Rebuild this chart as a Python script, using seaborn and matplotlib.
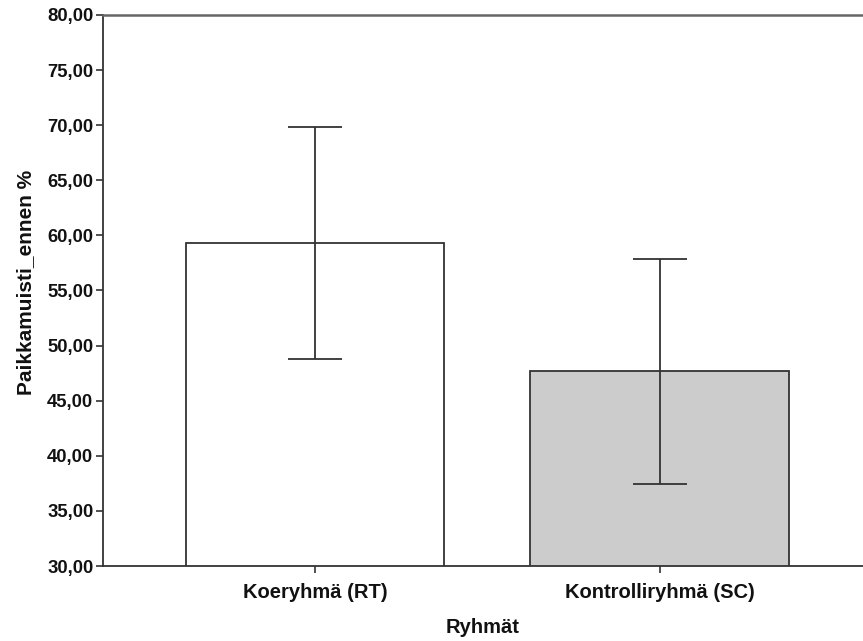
import matplotlib
matplotlib.use("Agg")
import matplotlib.pyplot as plt
import seaborn as sns
import numpy as np
from matplotlib.ticker import FuncFormatter

groups = ["Koeryhmä (RT)", "Kontrolliryhmä (SC)"]
means = [59.3, 47.7]
ci_low = [48.8, 37.4]
ci_high = [69.8, 57.9]
bar_colors = ["#ffffff", "#cccccc"]

sns.set_theme(style="white")
plt.rcParams['font.family'] = ['Liberation Sans', 'DejaVu Sans']

fig = plt.figure(figsize=(8.63, 6.41), dpi=100)
ax = fig.add_axes([103/863, 75/641, 760/863, 551/641])

sns.barplot(x=groups, y=means, hue=groups, palette=bar_colors, legend=False,
            width=0.75, edgecolor="#333333", linewidth=1.3, ax=ax, errorbar=None)

m = np.array(means)
yerr = np.vstack([m - np.array(ci_low), np.array(ci_high) - m])
ax.errorbar(x=np.arange(len(groups)), y=m, yerr=yerr, fmt="none",
            ecolor="#333333", elinewidth=1.3, capsize=19.5, capthick=1.3)

ax.set_ylim(30, 80)
ax.set_xlim(-0.615, 1.59)
ax.set_yticks(np.arange(30, 81, 5))
ax.yaxis.set_major_formatter(FuncFormatter(lambda v, p: f"{v:.2f}".replace(".", ",")))

for s in ["left", "bottom", "top"]:
    ax.spines[s].set_visible(True)
    ax.spines[s].set_color("#333333")
    ax.spines[s].set_linewidth(1.3)
ax.spines["top"].set_color("#666666")
ax.spines["top"].set_linewidth(1.8)
ax.spines["right"].set_visible(False)

ax.tick_params(axis="both", which="major", direction="out", length=5, width=1.2,
               color="#333333", left=True, bottom=True, labelsize=13.3, pad=2)
ax.tick_params(axis="x", pad=7, labelsize=14.5)
for lbl in ax.get_xticklabels() + ax.get_yticklabels():
    lbl.set_fontweight("bold")
    lbl.set_color("#111111")

ax.set_xlabel("Ryhmät", fontsize=14.5, fontweight="bold", color="#111111", labelpad=12)
ax.set_ylabel("Paikkamuisti_ennen %", fontsize=15, fontweight="bold", color="#111111")
ax.yaxis.set_label_coords(-0.0895, 0.514)

fig.savefig("out.png", dpi=100, facecolor="white")
